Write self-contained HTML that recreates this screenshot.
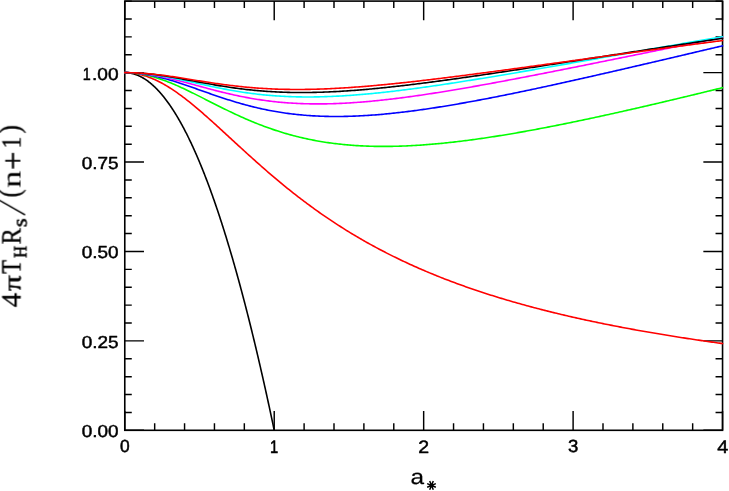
<!DOCTYPE html>
<html><head><meta charset="utf-8"><title>plot</title>
<style>
html,body{margin:0;padding:0;background:#fff;}
body{width:729px;height:491px;overflow:hidden;font-family:"Liberation Sans",sans-serif;}
svg{display:block;}
text{fill:#000;text-rendering:geometricPrecision;}
</style></head><body>
<svg width="729" height="491" viewBox="0 0 729 491">
<defs><filter id="gs" filterUnits="userSpaceOnUse" x="0" y="0" width="729" height="491"><feOffset dx="0" dy="0"/></filter></defs>
<rect x="0" y="0" width="729" height="491" fill="#fff"/>
<rect x="124.78" y="1.10" width="597.77" height="429.20" fill="none" stroke="#000" stroke-width="1.60"/>
<path d="M124.78 430.30 v-19.20 M124.78 1.10 v19.20 M154.67 430.30 v-7.00 M154.67 1.10 v7.00 M184.56 430.30 v-7.00 M184.56 1.10 v7.00 M214.45 430.30 v-7.00 M214.45 1.10 v7.00 M244.33 430.30 v-7.00 M244.33 1.10 v7.00 M274.22 430.30 v-19.20 M274.22 1.10 v19.20 M304.11 430.30 v-7.00 M304.11 1.10 v7.00 M334.00 430.30 v-7.00 M334.00 1.10 v7.00 M363.89 430.30 v-7.00 M363.89 1.10 v7.00 M393.78 430.30 v-7.00 M393.78 1.10 v7.00 M423.66 430.30 v-19.20 M423.66 1.10 v19.20 M453.55 430.30 v-7.00 M453.55 1.10 v7.00 M483.44 430.30 v-7.00 M483.44 1.10 v7.00 M513.33 430.30 v-7.00 M513.33 1.10 v7.00 M543.22 430.30 v-7.00 M543.22 1.10 v7.00 M573.11 430.30 v-19.20 M573.11 1.10 v19.20 M603.00 430.30 v-7.00 M603.00 1.10 v7.00 M632.88 430.30 v-7.00 M632.88 1.10 v7.00 M662.77 430.30 v-7.00 M662.77 1.10 v7.00 M692.66 430.30 v-7.00 M692.66 1.10 v7.00 M722.55 430.30 v-19.20 M722.55 1.10 v19.20 M124.78 430.30 h19.20 M722.55 430.30 h-19.20 M124.78 412.42 h7.00 M722.55 412.42 h-7.00 M124.78 394.53 h7.00 M722.55 394.53 h-7.00 M124.78 376.65 h7.00 M722.55 376.65 h-7.00 M124.78 358.77 h7.00 M722.55 358.77 h-7.00 M124.78 340.88 h19.20 M722.55 340.88 h-19.20 M124.78 323.00 h7.00 M722.55 323.00 h-7.00 M124.78 305.12 h7.00 M722.55 305.12 h-7.00 M124.78 287.23 h7.00 M722.55 287.23 h-7.00 M124.78 269.35 h7.00 M722.55 269.35 h-7.00 M124.78 251.47 h19.20 M722.55 251.47 h-19.20 M124.78 233.58 h7.00 M722.55 233.58 h-7.00 M124.78 215.70 h7.00 M722.55 215.70 h-7.00 M124.78 197.82 h7.00 M722.55 197.82 h-7.00 M124.78 179.93 h7.00 M722.55 179.93 h-7.00 M124.78 162.05 h19.20 M722.55 162.05 h-19.20 M124.78 144.17 h7.00 M722.55 144.17 h-7.00 M124.78 126.28 h7.00 M722.55 126.28 h-7.00 M124.78 108.40 h7.00 M722.55 108.40 h-7.00 M124.78 90.52 h7.00 M722.55 90.52 h-7.00 M124.78 72.63 h19.20 M722.55 72.63 h-19.20 M124.78 54.75 h7.00 M722.55 54.75 h-7.00 M124.78 36.87 h7.00 M722.55 36.87 h-7.00 M124.78 18.98 h7.00 M722.55 18.98 h-7.00 M124.78 1.10 h7.00 M722.55 1.10 h-7.00" stroke="#000" stroke-width="1.45" fill="none"/>
<g fill="none" stroke-width="1.60" stroke-linejoin="round" stroke-linecap="round">
<path d="M124.78 72.63 L125.15 72.64 L125.53 72.64 L125.90 72.65 L126.27 72.67 L126.65 72.69 L127.02 72.71 L127.40 72.74 L127.77 72.78 L128.14 72.81 L128.52 72.86 L128.89 72.90 L129.26 72.96 L129.64 73.01 L130.01 73.07 L130.38 73.14 L130.76 73.21 L131.13 73.28 L131.50 73.36 L131.88 73.44 L132.25 73.53 L132.63 73.62 L133.00 73.72 L133.37 73.82 L133.75 73.92 L134.12 74.03 L134.49 74.14 L134.87 74.26 L135.24 74.39 L135.61 74.51 L135.99 74.65 L136.36 74.78 L136.74 74.92 L137.11 75.07 L137.48 75.22 L137.86 75.37 L138.23 75.53 L138.60 75.69 L138.98 75.86 L139.35 76.03 L139.72 76.21 L140.10 76.39 L140.47 76.58 L140.85 76.77 L141.22 76.96 L141.59 77.16 L141.97 77.36 L142.34 77.57 L142.71 77.78 L143.09 78.00 L143.46 78.22 L143.83 78.45 L144.21 78.68 L144.58 78.91 L144.95 79.15 L145.33 79.40 L145.70 79.64 L146.08 79.90 L146.45 80.15 L146.82 80.41 L147.20 80.68 L147.57 80.95 L147.94 81.23 L148.32 81.51 L148.69 81.79 L149.06 82.08 L149.44 82.37 L149.81 82.67 L150.19 82.97 L150.56 83.28 L150.93 83.59 L151.31 83.90 L151.68 84.22 L152.05 84.55 L152.43 84.87 L152.80 85.21 L153.17 85.55 L153.55 85.89 L153.92 86.23 L154.29 86.58 L154.67 86.94 L155.04 87.30 L155.42 87.66 L155.79 88.03 L156.16 88.41 L156.54 88.78 L156.91 89.17 L157.28 89.55 L157.66 89.94 L158.03 90.34 L158.40 90.74 L158.78 91.14 L159.15 91.55 L159.53 91.97 L159.90 92.39 L160.27 92.81 L160.65 93.23 L161.02 93.67 L161.39 94.10 L161.77 94.54 L162.14 94.99 L162.51 95.44 L162.89 95.89 L163.26 96.35 L163.64 96.81 L164.01 97.28 L164.38 97.75 L164.76 98.23 L165.13 98.71 L165.50 99.19 L165.88 99.68 L166.25 100.18 L166.62 100.67 L167.00 101.18 L167.37 101.68 L167.74 102.20 L168.12 102.71 L168.49 103.23 L168.87 103.76 L169.24 104.29 L169.61 104.82 L169.99 105.36 L170.36 105.91 L170.73 106.45 L171.11 107.01 L171.48 107.56 L171.85 108.12 L172.23 108.69 L172.60 109.26 L172.98 109.83 L173.35 110.41 L173.72 111.00 L174.10 111.58 L174.47 112.18 L174.84 112.77 L175.22 113.37 L175.59 113.98 L175.96 114.59 L176.34 115.20 L176.71 115.82 L177.08 116.45 L177.46 117.08 L177.83 117.71 L178.21 118.35 L178.58 118.99 L178.95 119.63 L179.33 120.28 L179.70 120.94 L180.07 121.60 L180.45 122.26 L180.82 122.93 L181.19 123.60 L181.57 124.28 L181.94 124.96 L182.32 125.65 L182.69 126.34 L183.06 127.03 L183.44 127.73 L183.81 128.44 L184.18 129.15 L184.56 129.86 L184.93 130.58 L185.30 131.30 L185.68 132.03 L186.05 132.76 L186.43 133.49 L186.80 134.23 L187.17 134.98 L187.55 135.73 L187.92 136.48 L188.29 137.24 L188.67 138.00 L189.04 138.77 L189.41 139.54 L189.79 140.31 L190.16 141.09 L190.53 141.88 L190.91 142.67 L191.28 143.46 L191.66 144.26 L192.03 145.06 L192.40 145.87 L192.78 146.68 L193.15 147.50 L193.52 148.32 L193.90 149.14 L194.27 149.97 L194.64 150.80 L195.02 151.64 L195.39 152.48 L195.77 153.33 L196.14 154.18 L196.51 155.04 L196.89 155.90 L197.26 156.77 L197.63 157.64 L198.01 158.51 L198.38 159.39 L198.75 160.27 L199.13 161.16 L199.50 162.05 L199.87 162.95 L200.25 163.85 L200.62 164.75 L201.00 165.66 L201.37 166.58 L201.74 167.50 L202.12 168.42 L202.49 169.35 L202.86 170.28 L203.24 171.22 L203.61 172.16 L203.98 173.10 L204.36 174.05 L204.73 175.01 L205.11 175.97 L205.48 176.93 L205.85 177.90 L206.23 178.87 L206.60 179.85 L206.97 180.83 L207.35 181.81 L207.72 182.80 L208.09 183.80 L208.47 184.80 L208.84 185.80 L209.22 186.81 L209.59 187.82 L209.96 188.84 L210.34 189.86 L210.71 190.89 L211.08 191.92 L211.46 192.95 L211.83 193.99 L212.20 195.04 L212.58 196.08 L212.95 197.14 L213.32 198.19 L213.70 199.26 L214.07 200.32 L214.45 201.39 L214.82 202.47 L215.19 203.55 L215.57 204.63 L215.94 205.72 L216.31 206.81 L216.69 207.91 L217.06 209.01 L217.43 210.12 L217.81 211.23 L218.18 212.35 L218.56 213.47 L218.93 214.59 L219.30 215.72 L219.68 216.85 L220.05 217.99 L220.42 219.13 L220.80 220.28 L221.17 221.43 L221.54 222.59 L221.92 223.75 L222.29 224.91 L222.66 226.08 L223.04 227.25 L223.41 228.43 L223.79 229.62 L224.16 230.80 L224.53 231.99 L224.91 233.19 L225.28 234.39 L225.65 235.60 L226.03 236.80 L226.40 238.02 L226.77 239.24 L227.15 240.46 L227.52 241.69 L227.90 242.92 L228.27 244.15 L228.64 245.40 L229.02 246.64 L229.39 247.89 L229.76 249.14 L230.14 250.40 L230.51 251.67 L230.88 252.93 L231.26 254.21 L231.63 255.48 L232.00 256.76 L232.38 258.05 L232.75 259.34 L233.13 260.63 L233.50 261.93 L233.87 263.23 L234.25 264.54 L234.62 265.85 L234.99 267.17 L235.37 268.49 L235.74 269.82 L236.11 271.15 L236.49 272.48 L236.86 273.82 L237.24 275.16 L237.61 276.51 L237.98 277.86 L238.36 279.22 L238.73 280.58 L239.10 281.95 L239.48 283.32 L239.85 284.69 L240.22 286.07 L240.60 287.46 L240.97 288.85 L241.35 290.24 L241.72 291.63 L242.09 293.04 L242.47 294.44 L242.84 295.85 L243.21 297.27 L243.59 298.69 L243.96 300.11 L244.33 301.54 L244.71 302.97 L245.08 304.41 L245.45 305.85 L245.83 307.30 L246.20 308.75 L246.58 310.20 L246.95 311.66 L247.32 313.13 L247.70 314.60 L248.07 316.07 L248.44 317.55 L248.82 319.03 L249.19 320.52 L249.56 322.01 L249.94 323.50 L250.31 325.00 L250.69 326.51 L251.06 328.02 L251.43 329.53 L251.81 331.05 L252.18 332.57 L252.55 334.10 L252.93 335.63 L253.30 337.16 L253.67 338.70 L254.05 340.25 L254.42 341.80 L254.79 343.35 L255.17 344.91 L255.54 346.47 L255.92 348.04 L256.29 349.61 L256.66 351.19 L257.04 352.77 L257.41 354.35 L257.78 355.94 L258.16 357.53 L258.53 359.13 L258.90 360.74 L259.28 362.34 L259.65 363.96 L260.03 365.57 L260.40 367.19 L260.77 368.82 L261.15 370.45 L261.52 372.08 L261.89 373.72 L262.27 375.36 L262.64 377.01 L263.01 378.66 L263.39 380.32 L263.76 381.98 L264.14 383.64 L264.51 385.31 L264.88 386.99 L265.26 388.67 L265.63 390.35 L266.00 392.04 L266.38 393.73 L266.75 395.43 L267.12 397.13 L267.50 398.83 L267.87 400.54 L268.24 402.26 L268.62 403.98 L268.99 405.70 L269.37 407.43 L269.74 409.16 L270.11 410.90 L270.49 412.64 L270.86 414.39 L271.23 416.14 L271.61 417.89 L271.98 419.65 L272.35 421.41 L272.73 423.18 L273.10 424.96 L273.48 426.73 L273.85 428.51 L274.22 430.30" stroke="#000"/>
<path d="M124.78 72.63 L126.27 72.65 L127.77 72.70 L129.26 72.79 L130.76 72.92 L132.25 73.08 L133.75 73.28 L135.24 73.51 L136.74 73.77 L138.23 74.07 L139.72 74.41 L141.22 74.78 L142.71 75.18 L144.21 75.62 L145.70 76.09 L147.20 76.59 L148.69 77.13 L150.19 77.69 L151.68 78.29 L153.17 78.92 L154.67 79.58 L156.16 80.27 L157.66 80.99 L159.15 81.73 L160.65 82.51 L162.14 83.31 L163.64 84.14 L165.13 85.00 L166.62 85.88 L168.12 86.79 L169.61 87.72 L171.11 88.67 L172.60 89.65 L174.10 90.65 L175.59 91.67 L177.08 92.71 L178.58 93.78 L180.07 94.86 L181.57 95.96 L183.06 97.08 L184.56 98.21 L186.05 99.37 L187.55 100.54 L189.04 101.72 L190.53 102.92 L192.03 104.14 L193.52 105.36 L195.02 106.60 L196.51 107.86 L198.01 109.12 L199.50 110.39 L201.00 111.68 L202.49 112.97 L203.98 114.28 L205.48 115.59 L206.97 116.91 L208.47 118.23 L209.96 119.57 L211.46 120.91 L212.95 122.25 L214.45 123.60 L215.94 124.96 L217.43 126.32 L218.93 127.68 L220.42 129.05 L221.92 130.42 L223.41 131.79 L224.91 133.16 L226.40 134.54 L227.90 135.91 L229.39 137.29 L230.88 138.66 L232.38 140.04 L233.87 141.42 L235.37 142.79 L236.86 144.17 L238.36 145.54 L239.85 146.91 L241.35 148.28 L242.84 149.65 L244.33 151.01 L245.83 152.37 L247.32 153.73 L248.82 155.08 L250.31 156.43 L251.81 157.78 L253.30 159.12 L254.79 160.46 L256.29 161.79 L257.78 163.12 L259.28 164.45 L260.77 165.77 L262.27 167.08 L263.76 168.39 L265.26 169.69 L266.75 170.99 L268.24 172.28 L269.74 173.57 L271.23 174.85 L272.73 176.12 L274.22 177.39 L275.72 178.65 L277.21 179.91 L278.71 181.16 L280.20 182.40 L281.69 183.63 L283.19 184.86 L284.68 186.08 L286.18 187.30 L287.67 188.51 L289.17 189.71 L290.66 190.90 L292.16 192.09 L293.65 193.27 L295.14 194.44 L296.64 195.61 L298.13 196.77 L299.63 197.92 L301.12 199.06 L302.62 200.20 L304.11 201.33 L305.61 202.45 L307.10 203.57 L308.59 204.67 L310.09 205.77 L311.58 206.87 L313.08 207.95 L314.57 209.03 L316.07 210.10 L317.56 211.17 L319.06 212.23 L320.55 213.28 L322.04 214.32 L323.54 215.36 L325.03 216.39 L326.53 217.41 L328.02 218.42 L329.52 219.43 L331.01 220.43 L332.51 221.42 L334.00 222.41 L335.49 223.39 L336.99 224.36 L338.48 225.33 L339.98 226.29 L341.47 227.24 L342.97 228.19 L344.46 229.13 L345.95 230.06 L347.45 230.98 L348.94 231.90 L350.44 232.81 L351.93 233.72 L353.43 234.62 L354.92 235.51 L356.42 236.40 L357.91 237.28 L359.40 238.15 L360.90 239.02 L362.39 239.88 L363.89 240.74 L365.38 241.59 L366.88 242.43 L368.37 243.27 L369.87 244.10 L371.36 244.92 L372.85 245.74 L374.35 246.55 L375.84 247.36 L377.34 248.16 L378.83 248.96 L380.33 249.75 L381.82 250.53 L383.32 251.31 L384.81 252.08 L386.30 252.85 L387.80 253.61 L389.29 254.37 L390.79 255.12 L392.28 255.86 L393.78 256.60 L395.27 257.34 L396.77 258.07 L398.26 258.79 L399.75 259.51 L401.25 260.22 L402.74 260.93 L404.24 261.64 L405.73 262.34 L407.23 263.03 L408.72 263.72 L410.22 264.40 L411.71 265.08 L413.20 265.76 L414.70 266.43 L416.19 267.09 L417.69 267.75 L419.18 268.41 L420.68 269.06 L422.17 269.70 L423.66 270.35 L425.16 270.98 L426.65 271.62 L428.15 272.25 L429.64 272.87 L431.14 273.49 L432.63 274.11 L434.13 274.72 L435.62 275.33 L437.11 275.93 L438.61 276.53 L440.10 277.12 L441.60 277.71 L443.09 278.30 L444.59 278.88 L446.08 279.46 L447.58 280.04 L449.07 280.61 L450.56 281.17 L452.06 281.74 L453.55 282.30 L455.05 282.85 L456.54 283.40 L458.04 283.95 L459.53 284.50 L461.03 285.04 L462.52 285.58 L464.01 286.11 L465.51 286.64 L467.00 287.17 L468.50 287.69 L469.99 288.21 L471.49 288.73 L472.98 289.24 L474.48 289.75 L475.97 290.25 L477.46 290.76 L478.96 291.26 L480.45 291.75 L481.95 292.25 L483.44 292.74 L484.94 293.22 L486.43 293.71 L487.93 294.19 L489.42 294.66 L490.91 295.14 L492.41 295.61 L493.90 296.08 L495.40 296.54 L496.89 297.01 L498.39 297.47 L499.88 297.92 L501.38 298.38 L502.87 298.83 L504.36 299.28 L505.86 299.72 L507.35 300.16 L508.85 300.60 L510.34 301.04 L511.84 301.47 L513.33 301.91 L514.82 302.33 L516.32 302.76 L517.81 303.18 L519.31 303.60 L520.80 304.02 L522.30 304.44 L523.79 304.85 L525.29 305.26 L526.78 305.67 L528.27 306.08 L529.77 306.48 L531.26 306.88 L532.76 307.28 L534.25 307.68 L535.75 308.07 L537.24 308.46 L538.74 308.85 L540.23 309.24 L541.72 309.62 L543.22 310.00 L544.71 310.38 L546.21 310.76 L547.70 311.14 L549.20 311.51 L550.69 311.88 L552.19 312.25 L553.68 312.62 L555.17 312.98 L556.67 313.34 L558.16 313.70 L559.66 314.06 L561.15 314.42 L562.65 314.77 L564.14 315.12 L565.64 315.47 L567.13 315.82 L568.62 316.17 L570.12 316.51 L571.61 316.86 L573.11 317.20 L574.60 317.53 L576.10 317.87 L577.59 318.21 L579.09 318.54 L580.58 318.87 L582.07 319.20 L583.57 319.52 L585.06 319.85 L586.56 320.17 L588.05 320.50 L589.55 320.82 L591.04 321.13 L592.54 321.45 L594.03 321.76 L595.52 322.08 L597.02 322.39 L598.51 322.70 L600.01 323.01 L601.50 323.31 L603.00 323.62 L604.49 323.92 L605.98 324.22 L607.48 324.52 L608.97 324.82 L610.47 325.12 L611.96 325.41 L613.46 325.70 L614.95 326.00 L616.45 326.29 L617.94 326.57 L619.43 326.86 L620.93 327.15 L622.42 327.43 L623.92 327.71 L625.41 327.99 L626.91 328.27 L628.40 328.55 L629.90 328.83 L631.39 329.10 L632.88 329.38 L634.38 329.65 L635.87 329.92 L637.37 330.19 L638.86 330.46 L640.36 330.73 L641.85 330.99 L643.35 331.26 L644.84 331.52 L646.33 331.78 L647.83 332.04 L649.32 332.30 L650.82 332.56 L652.31 332.81 L653.81 333.07 L655.30 333.32 L656.80 333.58 L658.29 333.83 L659.78 334.08 L661.28 334.33 L662.77 334.57 L664.27 334.82 L665.76 335.06 L667.26 335.31 L668.75 335.55 L670.25 335.79 L671.74 336.03 L673.23 336.27 L674.73 336.51 L676.22 336.75 L677.72 336.98 L679.21 337.22 L680.71 337.45 L682.20 337.68 L683.69 337.91 L685.19 338.14 L686.68 338.37 L688.18 338.60 L689.67 338.83 L691.17 339.05 L692.66 339.28 L694.16 339.50 L695.65 339.72 L697.14 339.94 L698.64 340.16 L700.13 340.38 L701.63 340.60 L703.12 340.82 L704.62 341.03 L706.11 341.25 L707.61 341.46 L709.10 341.68 L710.59 341.89 L712.09 342.10 L713.58 342.31 L715.08 342.52 L716.57 342.73 L718.07 342.94 L719.56 343.14 L721.06 343.35 L722.55 343.55" stroke="#f00"/>
<path d="M124.78 72.63 L126.27 72.65 L127.77 72.68 L129.26 72.74 L130.76 72.82 L132.25 72.93 L133.75 73.06 L135.24 73.21 L136.74 73.39 L138.23 73.59 L139.72 73.81 L141.22 74.06 L142.71 74.33 L144.21 74.61 L145.70 74.93 L147.20 75.26 L148.69 75.61 L150.19 75.98 L151.68 76.37 L153.17 76.79 L154.67 77.22 L156.16 77.67 L157.66 78.14 L159.15 78.62 L160.65 79.13 L162.14 79.64 L163.64 80.18 L165.13 80.73 L166.62 81.30 L168.12 81.88 L169.61 82.47 L171.11 83.08 L172.60 83.70 L174.10 84.33 L175.59 84.98 L177.08 85.63 L178.58 86.30 L180.07 86.97 L181.57 87.66 L183.06 88.35 L184.56 89.05 L186.05 89.76 L187.55 90.47 L189.04 91.20 L190.53 91.92 L192.03 92.66 L193.52 93.40 L195.02 94.14 L196.51 94.88 L198.01 95.63 L199.50 96.39 L201.00 97.14 L202.49 97.90 L203.98 98.66 L205.48 99.41 L206.97 100.17 L208.47 100.93 L209.96 101.69 L211.46 102.45 L212.95 103.20 L214.45 103.96 L215.94 104.71 L217.43 105.46 L218.93 106.21 L220.42 106.96 L221.92 107.70 L223.41 108.44 L224.91 109.17 L226.40 109.90 L227.90 110.63 L229.39 111.35 L230.88 112.06 L232.38 112.77 L233.87 113.48 L235.37 114.18 L236.86 114.87 L238.36 115.56 L239.85 116.24 L241.35 116.92 L242.84 117.58 L244.33 118.25 L245.83 118.90 L247.32 119.55 L248.82 120.19 L250.31 120.82 L251.81 121.45 L253.30 122.06 L254.79 122.67 L256.29 123.28 L257.78 123.87 L259.28 124.46 L260.77 125.04 L262.27 125.61 L263.76 126.17 L265.26 126.73 L266.75 127.27 L268.24 127.81 L269.74 128.34 L271.23 128.86 L272.73 129.37 L274.22 129.88 L275.72 130.38 L277.21 130.86 L278.71 131.34 L280.20 131.81 L281.69 132.28 L283.19 132.73 L284.68 133.18 L286.18 133.62 L287.67 134.05 L289.17 134.47 L290.66 134.88 L292.16 135.29 L293.65 135.68 L295.14 136.07 L296.64 136.45 L298.13 136.83 L299.63 137.19 L301.12 137.55 L302.62 137.89 L304.11 138.23 L305.61 138.57 L307.10 138.89 L308.59 139.21 L310.09 139.52 L311.58 139.82 L313.08 140.11 L314.57 140.40 L316.07 140.68 L317.56 140.95 L319.06 141.21 L320.55 141.47 L322.04 141.72 L323.54 141.96 L325.03 142.20 L326.53 142.42 L328.02 142.64 L329.52 142.86 L331.01 143.06 L332.51 143.26 L334.00 143.46 L335.49 143.64 L336.99 143.82 L338.48 144.00 L339.98 144.16 L341.47 144.32 L342.97 144.48 L344.46 144.62 L345.95 144.76 L347.45 144.90 L348.94 145.03 L350.44 145.15 L351.93 145.27 L353.43 145.38 L354.92 145.48 L356.42 145.58 L357.91 145.67 L359.40 145.76 L360.90 145.84 L362.39 145.92 L363.89 145.99 L365.38 146.05 L366.88 146.11 L368.37 146.16 L369.87 146.21 L371.36 146.26 L372.85 146.29 L374.35 146.33 L375.84 146.35 L377.34 146.38 L378.83 146.40 L380.33 146.41 L381.82 146.42 L383.32 146.42 L384.81 146.42 L386.30 146.41 L387.80 146.40 L389.29 146.39 L390.79 146.37 L392.28 146.34 L393.78 146.31 L395.27 146.28 L396.77 146.24 L398.26 146.20 L399.75 146.16 L401.25 146.11 L402.74 146.05 L404.24 145.99 L405.73 145.93 L407.23 145.86 L408.72 145.79 L410.22 145.72 L411.71 145.64 L413.20 145.56 L414.70 145.47 L416.19 145.39 L417.69 145.29 L419.18 145.20 L420.68 145.10 L422.17 144.99 L423.66 144.89 L425.16 144.78 L426.65 144.66 L428.15 144.54 L429.64 144.42 L431.14 144.30 L432.63 144.17 L434.13 144.04 L435.62 143.91 L437.11 143.77 L438.61 143.63 L440.10 143.49 L441.60 143.34 L443.09 143.20 L444.59 143.04 L446.08 142.89 L447.58 142.73 L449.07 142.57 L450.56 142.41 L452.06 142.24 L453.55 142.08 L455.05 141.90 L456.54 141.73 L458.04 141.55 L459.53 141.37 L461.03 141.19 L462.52 141.01 L464.01 140.82 L465.51 140.63 L467.00 140.44 L468.50 140.25 L469.99 140.05 L471.49 139.85 L472.98 139.65 L474.48 139.45 L475.97 139.24 L477.46 139.03 L478.96 138.82 L480.45 138.61 L481.95 138.40 L483.44 138.18 L484.94 137.96 L486.43 137.74 L487.93 137.52 L489.42 137.29 L490.91 137.06 L492.41 136.83 L493.90 136.60 L495.40 136.37 L496.89 136.14 L498.39 135.90 L499.88 135.66 L501.38 135.42 L502.87 135.18 L504.36 134.93 L505.86 134.69 L507.35 134.44 L508.85 134.19 L510.34 133.94 L511.84 133.68 L513.33 133.43 L514.82 133.17 L516.32 132.92 L517.81 132.66 L519.31 132.40 L520.80 132.13 L522.30 131.87 L523.79 131.60 L525.29 131.34 L526.78 131.07 L528.27 130.80 L529.77 130.52 L531.26 130.25 L532.76 129.98 L534.25 129.70 L535.75 129.42 L537.24 129.14 L538.74 128.86 L540.23 128.58 L541.72 128.30 L543.22 128.01 L544.71 127.73 L546.21 127.44 L547.70 127.15 L549.20 126.86 L550.69 126.57 L552.19 126.28 L553.68 125.99 L555.17 125.69 L556.67 125.40 L558.16 125.10 L559.66 124.80 L561.15 124.50 L562.65 124.20 L564.14 123.90 L565.64 123.60 L567.13 123.30 L568.62 122.99 L570.12 122.69 L571.61 122.38 L573.11 122.07 L574.60 121.76 L576.10 121.45 L577.59 121.14 L579.09 120.83 L580.58 120.52 L582.07 120.20 L583.57 119.89 L585.06 119.57 L586.56 119.26 L588.05 118.94 L589.55 118.62 L591.04 118.30 L592.54 117.98 L594.03 117.66 L595.52 117.34 L597.02 117.02 L598.51 116.69 L600.01 116.37 L601.50 116.04 L603.00 115.72 L604.49 115.39 L605.98 115.06 L607.48 114.73 L608.97 114.41 L610.47 114.08 L611.96 113.74 L613.46 113.41 L614.95 113.08 L616.45 112.75 L617.94 112.41 L619.43 112.08 L620.93 111.74 L622.42 111.41 L623.92 111.07 L625.41 110.73 L626.91 110.40 L628.40 110.06 L629.90 109.72 L631.39 109.38 L632.88 109.04 L634.38 108.70 L635.87 108.36 L637.37 108.01 L638.86 107.67 L640.36 107.33 L641.85 106.98 L643.35 106.64 L644.84 106.29 L646.33 105.95 L647.83 105.60 L649.32 105.25 L650.82 104.90 L652.31 104.56 L653.81 104.21 L655.30 103.86 L656.80 103.51 L658.29 103.16 L659.78 102.81 L661.28 102.46 L662.77 102.10 L664.27 101.75 L665.76 101.40 L667.26 101.05 L668.75 100.69 L670.25 100.34 L671.74 99.98 L673.23 99.63 L674.73 99.27 L676.22 98.92 L677.72 98.56 L679.21 98.20 L680.71 97.84 L682.20 97.49 L683.69 97.13 L685.19 96.77 L686.68 96.41 L688.18 96.05 L689.67 95.69 L691.17 95.33 L692.66 94.97 L694.16 94.61 L695.65 94.25 L697.14 93.89 L698.64 93.52 L700.13 93.16 L701.63 92.80 L703.12 92.43 L704.62 92.07 L706.11 91.71 L707.61 91.34 L709.10 90.98 L710.59 90.61 L712.09 90.25 L713.58 89.88 L715.08 89.52 L716.57 89.15 L718.07 88.78 L719.56 88.42 L721.06 88.05 L722.55 87.68" stroke="#0f0"/>
<path d="M124.78 72.63 L126.27 72.64 L127.77 72.67 L129.26 72.71 L130.76 72.78 L132.25 72.86 L133.75 72.95 L135.24 73.07 L136.74 73.20 L138.23 73.35 L139.72 73.52 L141.22 73.70 L142.71 73.90 L144.21 74.12 L145.70 74.35 L147.20 74.60 L148.69 74.86 L150.19 75.14 L151.68 75.43 L153.17 75.73 L154.67 76.06 L156.16 76.39 L157.66 76.74 L159.15 77.10 L160.65 77.47 L162.14 77.85 L163.64 78.25 L165.13 78.65 L166.62 79.07 L168.12 79.50 L169.61 79.93 L171.11 80.38 L172.60 80.83 L174.10 81.29 L175.59 81.76 L177.08 82.24 L178.58 82.72 L180.07 83.21 L181.57 83.71 L183.06 84.21 L184.56 84.71 L186.05 85.22 L187.55 85.74 L189.04 86.25 L190.53 86.77 L192.03 87.29 L193.52 87.82 L195.02 88.35 L196.51 88.87 L198.01 89.40 L199.50 89.93 L201.00 90.46 L202.49 90.99 L203.98 91.52 L205.48 92.05 L206.97 92.57 L208.47 93.10 L209.96 93.62 L211.46 94.14 L212.95 94.66 L214.45 95.18 L215.94 95.69 L217.43 96.20 L218.93 96.70 L220.42 97.20 L221.92 97.70 L223.41 98.19 L224.91 98.68 L226.40 99.16 L227.90 99.64 L229.39 100.11 L230.88 100.58 L232.38 101.04 L233.87 101.50 L235.37 101.95 L236.86 102.40 L238.36 102.83 L239.85 103.27 L241.35 103.69 L242.84 104.11 L244.33 104.52 L245.83 104.93 L247.32 105.33 L248.82 105.72 L250.31 106.11 L251.81 106.49 L253.30 106.86 L254.79 107.22 L256.29 107.58 L257.78 107.93 L259.28 108.27 L260.77 108.61 L262.27 108.93 L263.76 109.25 L265.26 109.57 L266.75 109.87 L268.24 110.17 L269.74 110.46 L271.23 110.75 L272.73 111.03 L274.22 111.30 L275.72 111.56 L277.21 111.81 L278.71 112.06 L280.20 112.30 L281.69 112.53 L283.19 112.76 L284.68 112.98 L286.18 113.19 L287.67 113.39 L289.17 113.59 L290.66 113.78 L292.16 113.97 L293.65 114.14 L295.14 114.31 L296.64 114.47 L298.13 114.63 L299.63 114.78 L301.12 114.92 L302.62 115.06 L304.11 115.19 L305.61 115.31 L307.10 115.43 L308.59 115.54 L310.09 115.64 L311.58 115.74 L313.08 115.83 L314.57 115.91 L316.07 115.99 L317.56 116.07 L319.06 116.13 L320.55 116.19 L322.04 116.25 L323.54 116.30 L325.03 116.34 L326.53 116.38 L328.02 116.41 L329.52 116.44 L331.01 116.46 L332.51 116.47 L334.00 116.48 L335.49 116.49 L336.99 116.49 L338.48 116.48 L339.98 116.47 L341.47 116.46 L342.97 116.44 L344.46 116.41 L345.95 116.38 L347.45 116.34 L348.94 116.30 L350.44 116.26 L351.93 116.21 L353.43 116.15 L354.92 116.10 L356.42 116.03 L357.91 115.97 L359.40 115.89 L360.90 115.82 L362.39 115.74 L363.89 115.65 L365.38 115.56 L366.88 115.47 L368.37 115.37 L369.87 115.27 L371.36 115.17 L372.85 115.06 L374.35 114.95 L375.84 114.83 L377.34 114.71 L378.83 114.59 L380.33 114.46 L381.82 114.33 L383.32 114.19 L384.81 114.05 L386.30 113.91 L387.80 113.77 L389.29 113.62 L390.79 113.47 L392.28 113.31 L393.78 113.16 L395.27 113.00 L396.77 112.83 L398.26 112.66 L399.75 112.49 L401.25 112.32 L402.74 112.15 L404.24 111.97 L405.73 111.79 L407.23 111.60 L408.72 111.41 L410.22 111.22 L411.71 111.03 L413.20 110.84 L414.70 110.64 L416.19 110.44 L417.69 110.23 L419.18 110.03 L420.68 109.82 L422.17 109.61 L423.66 109.40 L425.16 109.18 L426.65 108.97 L428.15 108.75 L429.64 108.52 L431.14 108.30 L432.63 108.07 L434.13 107.84 L435.62 107.61 L437.11 107.38 L438.61 107.15 L440.10 106.91 L441.60 106.67 L443.09 106.43 L444.59 106.19 L446.08 105.94 L447.58 105.70 L449.07 105.45 L450.56 105.20 L452.06 104.95 L453.55 104.69 L455.05 104.44 L456.54 104.18 L458.04 103.92 L459.53 103.66 L461.03 103.40 L462.52 103.13 L464.01 102.87 L465.51 102.60 L467.00 102.33 L468.50 102.06 L469.99 101.79 L471.49 101.52 L472.98 101.24 L474.48 100.97 L475.97 100.69 L477.46 100.41 L478.96 100.13 L480.45 99.85 L481.95 99.57 L483.44 99.28 L484.94 99.00 L486.43 98.71 L487.93 98.42 L489.42 98.13 L490.91 97.84 L492.41 97.55 L493.90 97.26 L495.40 96.97 L496.89 96.67 L498.39 96.38 L499.88 96.08 L501.38 95.78 L502.87 95.48 L504.36 95.18 L505.86 94.88 L507.35 94.58 L508.85 94.27 L510.34 93.97 L511.84 93.66 L513.33 93.36 L514.82 93.05 L516.32 92.74 L517.81 92.43 L519.31 92.12 L520.80 91.81 L522.30 91.50 L523.79 91.19 L525.29 90.87 L526.78 90.56 L528.27 90.25 L529.77 89.93 L531.26 89.61 L532.76 89.30 L534.25 88.98 L535.75 88.66 L537.24 88.34 L538.74 88.02 L540.23 87.70 L541.72 87.38 L543.22 87.05 L544.71 86.73 L546.21 86.41 L547.70 86.08 L549.20 85.76 L550.69 85.43 L552.19 85.11 L553.68 84.78 L555.17 84.45 L556.67 84.13 L558.16 83.80 L559.66 83.47 L561.15 83.14 L562.65 82.81 L564.14 82.48 L565.64 82.15 L567.13 81.81 L568.62 81.48 L570.12 81.15 L571.61 80.82 L573.11 80.48 L574.60 80.15 L576.10 79.81 L577.59 79.48 L579.09 79.14 L580.58 78.81 L582.07 78.47 L583.57 78.13 L585.06 77.80 L586.56 77.46 L588.05 77.12 L589.55 76.78 L591.04 76.44 L592.54 76.11 L594.03 75.77 L595.52 75.43 L597.02 75.09 L598.51 74.75 L600.01 74.40 L601.50 74.06 L603.00 73.72 L604.49 73.38 L605.98 73.04 L607.48 72.69 L608.97 72.35 L610.47 72.01 L611.96 71.67 L613.46 71.32 L614.95 70.98 L616.45 70.63 L617.94 70.29 L619.43 69.94 L620.93 69.60 L622.42 69.25 L623.92 68.91 L625.41 68.56 L626.91 68.22 L628.40 67.87 L629.90 67.53 L631.39 67.18 L632.88 66.83 L634.38 66.49 L635.87 66.14 L637.37 65.79 L638.86 65.44 L640.36 65.10 L641.85 64.75 L643.35 64.40 L644.84 64.05 L646.33 63.70 L647.83 63.35 L649.32 63.01 L650.82 62.66 L652.31 62.31 L653.81 61.96 L655.30 61.61 L656.80 61.26 L658.29 60.91 L659.78 60.56 L661.28 60.21 L662.77 59.86 L664.27 59.51 L665.76 59.16 L667.26 58.81 L668.75 58.46 L670.25 58.11 L671.74 57.76 L673.23 57.41 L674.73 57.06 L676.22 56.71 L677.72 56.36 L679.21 56.01 L680.71 55.66 L682.20 55.30 L683.69 54.95 L685.19 54.60 L686.68 54.25 L688.18 53.90 L689.67 53.55 L691.17 53.20 L692.66 52.85 L694.16 52.49 L695.65 52.14 L697.14 51.79 L698.64 51.44 L700.13 51.09 L701.63 50.74 L703.12 50.38 L704.62 50.03 L706.11 49.68 L707.61 49.33 L709.10 48.98 L710.59 48.63 L712.09 48.27 L713.58 47.92 L715.08 47.57 L716.57 47.22 L718.07 46.87 L719.56 46.51 L721.06 46.16 L722.55 45.81" stroke="#00f"/>
<path d="M124.78 72.63 L126.27 72.64 L127.77 72.66 L129.26 72.70 L130.76 72.75 L132.25 72.81 L133.75 72.89 L135.24 72.98 L136.74 73.09 L138.23 73.21 L139.72 73.34 L141.22 73.49 L142.71 73.65 L144.21 73.82 L145.70 74.00 L147.20 74.20 L148.69 74.41 L150.19 74.63 L151.68 74.86 L153.17 75.11 L154.67 75.36 L156.16 75.63 L157.66 75.90 L159.15 76.19 L160.65 76.48 L162.14 76.79 L163.64 77.10 L165.13 77.42 L166.62 77.75 L168.12 78.09 L169.61 78.43 L171.11 78.78 L172.60 79.14 L174.10 79.51 L175.59 79.87 L177.08 80.25 L178.58 80.63 L180.07 81.01 L181.57 81.40 L183.06 81.79 L184.56 82.19 L186.05 82.58 L187.55 82.98 L189.04 83.38 L190.53 83.79 L192.03 84.19 L193.52 84.60 L195.02 85.01 L196.51 85.41 L198.01 85.82 L199.50 86.23 L201.00 86.64 L202.49 87.04 L203.98 87.45 L205.48 87.85 L206.97 88.25 L208.47 88.65 L209.96 89.05 L211.46 89.44 L212.95 89.83 L214.45 90.22 L215.94 90.61 L217.43 90.99 L218.93 91.37 L220.42 91.74 L221.92 92.11 L223.41 92.48 L224.91 92.84 L226.40 93.19 L227.90 93.55 L229.39 93.89 L230.88 94.24 L232.38 94.57 L233.87 94.91 L235.37 95.23 L236.86 95.55 L238.36 95.87 L239.85 96.18 L241.35 96.48 L242.84 96.78 L244.33 97.07 L245.83 97.36 L247.32 97.64 L248.82 97.91 L250.31 98.18 L251.81 98.44 L253.30 98.70 L254.79 98.95 L256.29 99.19 L257.78 99.43 L259.28 99.66 L260.77 99.89 L262.27 100.10 L263.76 100.31 L265.26 100.52 L266.75 100.72 L268.24 100.91 L269.74 101.10 L271.23 101.28 L272.73 101.45 L274.22 101.62 L275.72 101.78 L277.21 101.94 L278.71 102.08 L280.20 102.23 L281.69 102.36 L283.19 102.49 L284.68 102.62 L286.18 102.74 L287.67 102.85 L289.17 102.96 L290.66 103.06 L292.16 103.15 L293.65 103.24 L295.14 103.32 L296.64 103.40 L298.13 103.47 L299.63 103.54 L301.12 103.60 L302.62 103.65 L304.11 103.70 L305.61 103.75 L307.10 103.79 L308.59 103.82 L310.09 103.85 L311.58 103.87 L313.08 103.89 L314.57 103.90 L316.07 103.91 L317.56 103.91 L319.06 103.91 L320.55 103.90 L322.04 103.89 L323.54 103.88 L325.03 103.85 L326.53 103.83 L328.02 103.80 L329.52 103.76 L331.01 103.73 L332.51 103.68 L334.00 103.63 L335.49 103.58 L336.99 103.53 L338.48 103.47 L339.98 103.40 L341.47 103.33 L342.97 103.26 L344.46 103.18 L345.95 103.10 L347.45 103.02 L348.94 102.93 L350.44 102.84 L351.93 102.74 L353.43 102.64 L354.92 102.54 L356.42 102.43 L357.91 102.32 L359.40 102.21 L360.90 102.09 L362.39 101.97 L363.89 101.85 L365.38 101.72 L366.88 101.60 L368.37 101.46 L369.87 101.33 L371.36 101.19 L372.85 101.05 L374.35 100.90 L375.84 100.75 L377.34 100.60 L378.83 100.45 L380.33 100.29 L381.82 100.13 L383.32 99.97 L384.81 99.81 L386.30 99.64 L387.80 99.47 L389.29 99.30 L390.79 99.13 L392.28 98.95 L393.78 98.77 L395.27 98.59 L396.77 98.40 L398.26 98.22 L399.75 98.03 L401.25 97.84 L402.74 97.64 L404.24 97.45 L405.73 97.25 L407.23 97.05 L408.72 96.85 L410.22 96.65 L411.71 96.44 L413.20 96.24 L414.70 96.03 L416.19 95.81 L417.69 95.60 L419.18 95.39 L420.68 95.17 L422.17 94.95 L423.66 94.73 L425.16 94.51 L426.65 94.29 L428.15 94.06 L429.64 93.83 L431.14 93.61 L432.63 93.38 L434.13 93.14 L435.62 92.91 L437.11 92.68 L438.61 92.44 L440.10 92.20 L441.60 91.96 L443.09 91.72 L444.59 91.48 L446.08 91.24 L447.58 90.99 L449.07 90.75 L450.56 90.50 L452.06 90.25 L453.55 90.00 L455.05 89.75 L456.54 89.50 L458.04 89.25 L459.53 88.99 L461.03 88.74 L462.52 88.48 L464.01 88.22 L465.51 87.97 L467.00 87.71 L468.50 87.45 L469.99 87.18 L471.49 86.92 L472.98 86.66 L474.48 86.39 L475.97 86.13 L477.46 85.86 L478.96 85.59 L480.45 85.32 L481.95 85.06 L483.44 84.79 L484.94 84.51 L486.43 84.24 L487.93 83.97 L489.42 83.70 L490.91 83.42 L492.41 83.15 L493.90 82.87 L495.40 82.60 L496.89 82.32 L498.39 82.04 L499.88 81.76 L501.38 81.48 L502.87 81.20 L504.36 80.92 L505.86 80.64 L507.35 80.36 L508.85 80.08 L510.34 79.80 L511.84 79.51 L513.33 79.23 L514.82 78.94 L516.32 78.66 L517.81 78.37 L519.31 78.09 L520.80 77.80 L522.30 77.51 L523.79 77.22 L525.29 76.94 L526.78 76.65 L528.27 76.36 L529.77 76.07 L531.26 75.78 L532.76 75.49 L534.25 75.20 L535.75 74.90 L537.24 74.61 L538.74 74.32 L540.23 74.03 L541.72 73.73 L543.22 73.44 L544.71 73.15 L546.21 72.85 L547.70 72.56 L549.20 72.26 L550.69 71.97 L552.19 71.67 L553.68 71.38 L555.17 71.08 L556.67 70.79 L558.16 70.49 L559.66 70.19 L561.15 69.89 L562.65 69.60 L564.14 69.30 L565.64 69.00 L567.13 68.70 L568.62 68.40 L570.12 68.11 L571.61 67.81 L573.11 67.51 L574.60 67.21 L576.10 66.91 L577.59 66.61 L579.09 66.31 L580.58 66.01 L582.07 65.71 L583.57 65.41 L585.06 65.11 L586.56 64.81 L588.05 64.50 L589.55 64.20 L591.04 63.90 L592.54 63.60 L594.03 63.30 L595.52 63.00 L597.02 62.70 L598.51 62.39 L600.01 62.09 L601.50 61.79 L603.00 61.49 L604.49 61.18 L605.98 60.88 L607.48 60.58 L608.97 60.28 L610.47 59.97 L611.96 59.67 L613.46 59.37 L614.95 59.06 L616.45 58.76 L617.94 58.46 L619.43 58.15 L620.93 57.85 L622.42 57.55 L623.92 57.24 L625.41 56.94 L626.91 56.64 L628.40 56.33 L629.90 56.03 L631.39 55.73 L632.88 55.42 L634.38 55.12 L635.87 54.82 L637.37 54.51 L638.86 54.21 L640.36 53.91 L641.85 53.60 L643.35 53.30 L644.84 52.99 L646.33 52.69 L647.83 52.39 L649.32 52.08 L650.82 51.78 L652.31 51.48 L653.81 51.17 L655.30 50.87 L656.80 50.56 L658.29 50.26 L659.78 49.96 L661.28 49.65 L662.77 49.35 L664.27 49.05 L665.76 48.74 L667.26 48.44 L668.75 48.14 L670.25 47.83 L671.74 47.53 L673.23 47.23 L674.73 46.93 L676.22 46.62 L677.72 46.32 L679.21 46.02 L680.71 45.71 L682.20 45.41 L683.69 45.11 L685.19 44.81 L686.68 44.50 L688.18 44.20 L689.67 43.90 L691.17 43.60 L692.66 43.29 L694.16 42.99 L695.65 42.69 L697.14 42.39 L698.64 42.09 L700.13 41.78 L701.63 41.48 L703.12 41.18 L704.62 40.88 L706.11 40.58 L707.61 40.28 L709.10 39.98 L710.59 39.67 L712.09 39.37 L713.58 39.07 L715.08 38.77 L716.57 38.47 L718.07 38.17 L719.56 37.87 L721.06 37.57 L722.55 37.27" stroke="#f0f"/>
<path d="M124.78 72.63 L126.27 72.64 L127.77 72.66 L129.26 72.69 L130.76 72.73 L132.25 72.78 L133.75 72.85 L135.24 72.92 L136.74 73.01 L138.23 73.11 L139.72 73.22 L141.22 73.34 L142.71 73.48 L144.21 73.62 L145.70 73.77 L147.20 73.94 L148.69 74.11 L150.19 74.30 L151.68 74.49 L153.17 74.69 L154.67 74.90 L156.16 75.12 L157.66 75.35 L159.15 75.59 L160.65 75.83 L162.14 76.09 L163.64 76.34 L165.13 76.61 L166.62 76.88 L168.12 77.16 L169.61 77.45 L171.11 77.74 L172.60 78.03 L174.10 78.33 L175.59 78.63 L177.08 78.94 L178.58 79.25 L180.07 79.57 L181.57 79.89 L183.06 80.21 L184.56 80.53 L186.05 80.86 L187.55 81.18 L189.04 81.51 L190.53 81.84 L192.03 82.17 L193.52 82.50 L195.02 82.84 L196.51 83.17 L198.01 83.50 L199.50 83.83 L201.00 84.16 L202.49 84.49 L203.98 84.81 L205.48 85.14 L206.97 85.46 L208.47 85.78 L209.96 86.10 L211.46 86.42 L212.95 86.73 L214.45 87.04 L215.94 87.35 L217.43 87.66 L218.93 87.96 L220.42 88.26 L221.92 88.55 L223.41 88.84 L224.91 89.12 L226.40 89.41 L227.90 89.68 L229.39 89.96 L230.88 90.22 L232.38 90.49 L233.87 90.75 L235.37 91.00 L236.86 91.25 L238.36 91.49 L239.85 91.73 L241.35 91.97 L242.84 92.20 L244.33 92.42 L245.83 92.64 L247.32 92.85 L248.82 93.06 L250.31 93.26 L251.81 93.46 L253.30 93.65 L254.79 93.83 L256.29 94.01 L257.78 94.19 L259.28 94.36 L260.77 94.52 L262.27 94.68 L263.76 94.83 L265.26 94.98 L266.75 95.12 L268.24 95.25 L269.74 95.39 L271.23 95.51 L272.73 95.63 L274.22 95.74 L275.72 95.85 L277.21 95.96 L278.71 96.05 L280.20 96.15 L281.69 96.23 L283.19 96.32 L284.68 96.39 L286.18 96.47 L287.67 96.53 L289.17 96.59 L290.66 96.65 L292.16 96.70 L293.65 96.75 L295.14 96.79 L296.64 96.83 L298.13 96.86 L299.63 96.89 L301.12 96.91 L302.62 96.93 L304.11 96.94 L305.61 96.95 L307.10 96.96 L308.59 96.96 L310.09 96.95 L311.58 96.94 L313.08 96.93 L314.57 96.91 L316.07 96.89 L317.56 96.86 L319.06 96.83 L320.55 96.80 L322.04 96.76 L323.54 96.72 L325.03 96.67 L326.53 96.62 L328.02 96.57 L329.52 96.51 L331.01 96.45 L332.51 96.39 L334.00 96.32 L335.49 96.25 L336.99 96.17 L338.48 96.09 L339.98 96.01 L341.47 95.93 L342.97 95.84 L344.46 95.75 L345.95 95.65 L347.45 95.55 L348.94 95.45 L350.44 95.35 L351.93 95.24 L353.43 95.13 L354.92 95.01 L356.42 94.90 L357.91 94.78 L359.40 94.66 L360.90 94.53 L362.39 94.41 L363.89 94.28 L365.38 94.14 L366.88 94.01 L368.37 93.87 L369.87 93.73 L371.36 93.59 L372.85 93.44 L374.35 93.29 L375.84 93.14 L377.34 92.99 L378.83 92.84 L380.33 92.68 L381.82 92.52 L383.32 92.36 L384.81 92.20 L386.30 92.03 L387.80 91.86 L389.29 91.69 L390.79 91.52 L392.28 91.35 L393.78 91.17 L395.27 91.00 L396.77 90.82 L398.26 90.64 L399.75 90.45 L401.25 90.27 L402.74 90.08 L404.24 89.90 L405.73 89.71 L407.23 89.52 L408.72 89.32 L410.22 89.13 L411.71 88.93 L413.20 88.74 L414.70 88.54 L416.19 88.34 L417.69 88.14 L419.18 87.93 L420.68 87.73 L422.17 87.52 L423.66 87.32 L425.16 87.11 L426.65 86.90 L428.15 86.69 L429.64 86.47 L431.14 86.26 L432.63 86.05 L434.13 85.83 L435.62 85.61 L437.11 85.39 L438.61 85.17 L440.10 84.95 L441.60 84.73 L443.09 84.51 L444.59 84.29 L446.08 84.06 L447.58 83.84 L449.07 83.61 L450.56 83.38 L452.06 83.15 L453.55 82.92 L455.05 82.69 L456.54 82.46 L458.04 82.23 L459.53 82.00 L461.03 81.76 L462.52 81.53 L464.01 81.29 L465.51 81.06 L467.00 80.82 L468.50 80.58 L469.99 80.35 L471.49 80.11 L472.98 79.87 L474.48 79.63 L475.97 79.39 L477.46 79.14 L478.96 78.90 L480.45 78.66 L481.95 78.42 L483.44 78.17 L484.94 77.93 L486.43 77.68 L487.93 77.44 L489.42 77.19 L490.91 76.94 L492.41 76.69 L493.90 76.45 L495.40 76.20 L496.89 75.95 L498.39 75.70 L499.88 75.45 L501.38 75.20 L502.87 74.95 L504.36 74.70 L505.86 74.44 L507.35 74.19 L508.85 73.94 L510.34 73.69 L511.84 73.43 L513.33 73.18 L514.82 72.92 L516.32 72.67 L517.81 72.42 L519.31 72.16 L520.80 71.90 L522.30 71.65 L523.79 71.39 L525.29 71.14 L526.78 70.88 L528.27 70.62 L529.77 70.36 L531.26 70.11 L532.76 69.85 L534.25 69.59 L535.75 69.33 L537.24 69.07 L538.74 68.82 L540.23 68.56 L541.72 68.30 L543.22 68.04 L544.71 67.78 L546.21 67.52 L547.70 67.26 L549.20 67.00 L550.69 66.74 L552.19 66.48 L553.68 66.22 L555.17 65.95 L556.67 65.69 L558.16 65.43 L559.66 65.17 L561.15 64.91 L562.65 64.65 L564.14 64.39 L565.64 64.12 L567.13 63.86 L568.62 63.60 L570.12 63.34 L571.61 63.07 L573.11 62.81 L574.60 62.55 L576.10 62.29 L577.59 62.02 L579.09 61.76 L580.58 61.50 L582.07 61.24 L583.57 60.97 L585.06 60.71 L586.56 60.45 L588.05 60.18 L589.55 59.92 L591.04 59.66 L592.54 59.39 L594.03 59.13 L595.52 58.87 L597.02 58.60 L598.51 58.34 L600.01 58.08 L601.50 57.81 L603.00 57.55 L604.49 57.29 L605.98 57.02 L607.48 56.76 L608.97 56.50 L610.47 56.23 L611.96 55.97 L613.46 55.71 L614.95 55.44 L616.45 55.18 L617.94 54.92 L619.43 54.65 L620.93 54.39 L622.42 54.13 L623.92 53.87 L625.41 53.60 L626.91 53.34 L628.40 53.08 L629.90 52.81 L631.39 52.55 L632.88 52.29 L634.38 52.03 L635.87 51.76 L637.37 51.50 L638.86 51.24 L640.36 50.97 L641.85 50.71 L643.35 50.45 L644.84 50.19 L646.33 49.93 L647.83 49.66 L649.32 49.40 L650.82 49.14 L652.31 48.88 L653.81 48.62 L655.30 48.35 L656.80 48.09 L658.29 47.83 L659.78 47.57 L661.28 47.31 L662.77 47.05 L664.27 46.79 L665.76 46.53 L667.26 46.27 L668.75 46.00 L670.25 45.74 L671.74 45.48 L673.23 45.22 L674.73 44.96 L676.22 44.70 L677.72 44.44 L679.21 44.18 L680.71 43.92 L682.20 43.66 L683.69 43.40 L685.19 43.14 L686.68 42.88 L688.18 42.63 L689.67 42.37 L691.17 42.11 L692.66 41.85 L694.16 41.59 L695.65 41.33 L697.14 41.07 L698.64 40.82 L700.13 40.56 L701.63 40.30 L703.12 40.04 L704.62 39.78 L706.11 39.53 L707.61 39.27 L709.10 39.01 L710.59 38.75 L712.09 38.50 L713.58 38.24 L715.08 37.98 L716.57 37.73 L718.07 37.47 L719.56 37.22 L721.06 36.96 L722.55 36.70" stroke="#0ff"/>
<path d="M124.78 72.63 L126.27 72.64 L127.77 72.65 L129.26 72.68 L130.76 72.71 L132.25 72.76 L133.75 72.82 L135.24 72.88 L136.74 72.96 L138.23 73.04 L139.72 73.14 L141.22 73.24 L142.71 73.36 L144.21 73.48 L145.70 73.61 L147.20 73.75 L148.69 73.90 L150.19 74.06 L151.68 74.22 L153.17 74.40 L154.67 74.58 L156.16 74.76 L157.66 74.96 L159.15 75.16 L160.65 75.37 L162.14 75.59 L163.64 75.81 L165.13 76.03 L166.62 76.27 L168.12 76.50 L169.61 76.75 L171.11 76.99 L172.60 77.24 L174.10 77.50 L175.59 77.76 L177.08 78.02 L178.58 78.28 L180.07 78.55 L181.57 78.82 L183.06 79.09 L184.56 79.37 L186.05 79.64 L187.55 79.92 L189.04 80.20 L190.53 80.48 L192.03 80.75 L193.52 81.03 L195.02 81.31 L196.51 81.59 L198.01 81.87 L199.50 82.15 L201.00 82.42 L202.49 82.70 L203.98 82.97 L205.48 83.25 L206.97 83.52 L208.47 83.79 L209.96 84.05 L211.46 84.32 L212.95 84.58 L214.45 84.84 L215.94 85.09 L217.43 85.35 L218.93 85.60 L220.42 85.84 L221.92 86.08 L223.41 86.32 L224.91 86.56 L226.40 86.79 L227.90 87.02 L229.39 87.24 L230.88 87.46 L232.38 87.68 L233.87 87.89 L235.37 88.10 L236.86 88.30 L238.36 88.50 L239.85 88.69 L241.35 88.88 L242.84 89.06 L244.33 89.24 L245.83 89.42 L247.32 89.59 L248.82 89.75 L250.31 89.91 L251.81 90.07 L253.30 90.22 L254.79 90.36 L256.29 90.50 L257.78 90.64 L259.28 90.77 L260.77 90.90 L262.27 91.02 L263.76 91.14 L265.26 91.25 L266.75 91.36 L268.24 91.46 L269.74 91.55 L271.23 91.65 L272.73 91.73 L274.22 91.82 L275.72 91.90 L277.21 91.97 L278.71 92.04 L280.20 92.10 L281.69 92.16 L283.19 92.22 L284.68 92.27 L286.18 92.31 L287.67 92.36 L289.17 92.39 L290.66 92.43 L292.16 92.45 L293.65 92.48 L295.14 92.50 L296.64 92.51 L298.13 92.53 L299.63 92.53 L301.12 92.54 L302.62 92.54 L304.11 92.53 L305.61 92.52 L307.10 92.51 L308.59 92.49 L310.09 92.47 L311.58 92.45 L313.08 92.42 L314.57 92.39 L316.07 92.35 L317.56 92.32 L319.06 92.27 L320.55 92.23 L322.04 92.18 L323.54 92.13 L325.03 92.07 L326.53 92.01 L328.02 91.95 L329.52 91.89 L331.01 91.82 L332.51 91.74 L334.00 91.67 L335.49 91.59 L336.99 91.51 L338.48 91.43 L339.98 91.34 L341.47 91.25 L342.97 91.16 L344.46 91.06 L345.95 90.97 L347.45 90.87 L348.94 90.76 L350.44 90.66 L351.93 90.55 L353.43 90.44 L354.92 90.33 L356.42 90.21 L357.91 90.09 L359.40 89.97 L360.90 89.85 L362.39 89.73 L363.89 89.60 L365.38 89.47 L366.88 89.34 L368.37 89.20 L369.87 89.07 L371.36 88.93 L372.85 88.79 L374.35 88.65 L375.84 88.51 L377.34 88.36 L378.83 88.21 L380.33 88.06 L381.82 87.91 L383.32 87.76 L384.81 87.61 L386.30 87.45 L387.80 87.29 L389.29 87.13 L390.79 86.97 L392.28 86.81 L393.78 86.64 L395.27 86.48 L396.77 86.31 L398.26 86.14 L399.75 85.97 L401.25 85.80 L402.74 85.62 L404.24 85.45 L405.73 85.27 L407.23 85.10 L408.72 84.92 L410.22 84.74 L411.71 84.56 L413.20 84.37 L414.70 84.19 L416.19 84.00 L417.69 83.82 L419.18 83.63 L420.68 83.44 L422.17 83.25 L423.66 83.06 L425.16 82.87 L426.65 82.68 L428.15 82.48 L429.64 82.29 L431.14 82.09 L432.63 81.90 L434.13 81.70 L435.62 81.50 L437.11 81.30 L438.61 81.10 L440.10 80.90 L441.60 80.70 L443.09 80.50 L444.59 80.29 L446.08 80.09 L447.58 79.88 L449.07 79.68 L450.56 79.47 L452.06 79.26 L453.55 79.06 L455.05 78.85 L456.54 78.64 L458.04 78.43 L459.53 78.22 L461.03 78.00 L462.52 77.79 L464.01 77.58 L465.51 77.37 L467.00 77.15 L468.50 76.94 L469.99 76.72 L471.49 76.51 L472.98 76.29 L474.48 76.08 L475.97 75.86 L477.46 75.64 L478.96 75.42 L480.45 75.20 L481.95 74.99 L483.44 74.77 L484.94 74.55 L486.43 74.33 L487.93 74.11 L489.42 73.88 L490.91 73.66 L492.41 73.44 L493.90 73.22 L495.40 73.00 L496.89 72.77 L498.39 72.55 L499.88 72.33 L501.38 72.10 L502.87 71.88 L504.36 71.65 L505.86 71.43 L507.35 71.20 L508.85 70.98 L510.34 70.75 L511.84 70.53 L513.33 70.30 L514.82 70.07 L516.32 69.85 L517.81 69.62 L519.31 69.39 L520.80 69.17 L522.30 68.94 L523.79 68.71 L525.29 68.48 L526.78 68.25 L528.27 68.03 L529.77 67.80 L531.26 67.57 L532.76 67.34 L534.25 67.11 L535.75 66.88 L537.24 66.65 L538.74 66.42 L540.23 66.19 L541.72 65.96 L543.22 65.73 L544.71 65.50 L546.21 65.27 L547.70 65.04 L549.20 64.81 L550.69 64.58 L552.19 64.35 L553.68 64.12 L555.17 63.89 L556.67 63.66 L558.16 63.43 L559.66 63.20 L561.15 62.97 L562.65 62.74 L564.14 62.50 L565.64 62.27 L567.13 62.04 L568.62 61.81 L570.12 61.58 L571.61 61.35 L573.11 61.12 L574.60 60.89 L576.10 60.66 L577.59 60.42 L579.09 60.19 L580.58 59.96 L582.07 59.73 L583.57 59.50 L585.06 59.27 L586.56 59.04 L588.05 58.80 L589.55 58.57 L591.04 58.34 L592.54 58.11 L594.03 57.88 L595.52 57.65 L597.02 57.42 L598.51 57.19 L600.01 56.96 L601.50 56.72 L603.00 56.49 L604.49 56.26 L605.98 56.03 L607.48 55.80 L608.97 55.57 L610.47 55.34 L611.96 55.11 L613.46 54.88 L614.95 54.65 L616.45 54.42 L617.94 54.19 L619.43 53.96 L620.93 53.73 L622.42 53.50 L623.92 53.27 L625.41 53.04 L626.91 52.81 L628.40 52.58 L629.90 52.35 L631.39 52.12 L632.88 51.89 L634.38 51.66 L635.87 51.43 L637.37 51.20 L638.86 50.97 L640.36 50.74 L641.85 50.51 L643.35 50.28 L644.84 50.06 L646.33 49.83 L647.83 49.60 L649.32 49.37 L650.82 49.14 L652.31 48.91 L653.81 48.69 L655.30 48.46 L656.80 48.23 L658.29 48.00 L659.78 47.78 L661.28 47.55 L662.77 47.32 L664.27 47.09 L665.76 46.87 L667.26 46.64 L668.75 46.41 L670.25 46.19 L671.74 45.96 L673.23 45.73 L674.73 45.51 L676.22 45.28 L677.72 45.06 L679.21 44.83 L680.71 44.61 L682.20 44.38 L683.69 44.15 L685.19 43.93 L686.68 43.70 L688.18 43.48 L689.67 43.25 L691.17 43.03 L692.66 42.81 L694.16 42.58 L695.65 42.36 L697.14 42.13 L698.64 41.91 L700.13 41.69 L701.63 41.46 L703.12 41.24 L704.62 41.02 L706.11 40.79 L707.61 40.57 L709.10 40.35 L710.59 40.13 L712.09 39.90 L713.58 39.68 L715.08 39.46 L716.57 39.24 L718.07 39.02 L719.56 38.79 L721.06 38.57 L722.55 38.35" stroke="#000"/>
<path d="M124.78 72.63 L126.27 72.64 L127.77 72.65 L129.26 72.67 L130.76 72.70 L132.25 72.74 L133.75 72.79 L135.24 72.85 L136.74 72.92 L138.23 72.99 L139.72 73.07 L141.22 73.17 L142.71 73.27 L144.21 73.37 L145.70 73.49 L147.20 73.61 L148.69 73.74 L150.19 73.88 L151.68 74.02 L153.17 74.17 L154.67 74.33 L156.16 74.50 L157.66 74.67 L159.15 74.84 L160.65 75.02 L162.14 75.21 L163.64 75.41 L165.13 75.60 L166.62 75.81 L168.12 76.01 L169.61 76.22 L171.11 76.44 L172.60 76.66 L174.10 76.88 L175.59 77.10 L177.08 77.33 L178.58 77.56 L180.07 77.79 L181.57 78.03 L183.06 78.26 L184.56 78.50 L186.05 78.74 L187.55 78.98 L189.04 79.22 L190.53 79.46 L192.03 79.70 L193.52 79.94 L195.02 80.18 L196.51 80.43 L198.01 80.67 L199.50 80.91 L201.00 81.14 L202.49 81.38 L203.98 81.62 L205.48 81.85 L206.97 82.08 L208.47 82.32 L209.96 82.54 L211.46 82.77 L212.95 82.99 L214.45 83.22 L215.94 83.43 L217.43 83.65 L218.93 83.86 L220.42 84.07 L221.92 84.28 L223.41 84.48 L224.91 84.68 L226.40 84.88 L227.90 85.07 L229.39 85.26 L230.88 85.45 L232.38 85.63 L233.87 85.81 L235.37 85.98 L236.86 86.15 L238.36 86.32 L239.85 86.48 L241.35 86.64 L242.84 86.79 L244.33 86.94 L245.83 87.08 L247.32 87.22 L248.82 87.36 L250.31 87.49 L251.81 87.62 L253.30 87.74 L254.79 87.86 L256.29 87.98 L257.78 88.09 L259.28 88.19 L260.77 88.30 L262.27 88.39 L263.76 88.49 L265.26 88.57 L266.75 88.66 L268.24 88.74 L269.74 88.81 L271.23 88.89 L272.73 88.95 L274.22 89.02 L275.72 89.08 L277.21 89.13 L278.71 89.18 L280.20 89.23 L281.69 89.27 L283.19 89.31 L284.68 89.34 L286.18 89.37 L287.67 89.40 L289.17 89.42 L290.66 89.44 L292.16 89.45 L293.65 89.47 L295.14 89.47 L296.64 89.48 L298.13 89.48 L299.63 89.47 L301.12 89.47 L302.62 89.45 L304.11 89.44 L305.61 89.42 L307.10 89.40 L308.59 89.38 L310.09 89.35 L311.58 89.32 L313.08 89.28 L314.57 89.24 L316.07 89.20 L317.56 89.16 L319.06 89.11 L320.55 89.06 L322.04 89.01 L323.54 88.95 L325.03 88.89 L326.53 88.83 L328.02 88.77 L329.52 88.70 L331.01 88.63 L332.51 88.56 L334.00 88.48 L335.49 88.40 L336.99 88.32 L338.48 88.24 L339.98 88.15 L341.47 88.07 L342.97 87.97 L344.46 87.88 L345.95 87.79 L347.45 87.69 L348.94 87.59 L350.44 87.49 L351.93 87.38 L353.43 87.27 L354.92 87.17 L356.42 87.06 L357.91 86.94 L359.40 86.83 L360.90 86.71 L362.39 86.59 L363.89 86.47 L365.38 86.35 L366.88 86.22 L368.37 86.10 L369.87 85.97 L371.36 85.84 L372.85 85.71 L374.35 85.57 L375.84 85.44 L377.34 85.30 L378.83 85.16 L380.33 85.03 L381.82 84.88 L383.32 84.74 L384.81 84.60 L386.30 84.45 L387.80 84.30 L389.29 84.15 L390.79 84.00 L392.28 83.85 L393.78 83.70 L395.27 83.55 L396.77 83.39 L398.26 83.24 L399.75 83.08 L401.25 82.92 L402.74 82.76 L404.24 82.60 L405.73 82.43 L407.23 82.27 L408.72 82.11 L410.22 81.94 L411.71 81.77 L413.20 81.61 L414.70 81.44 L416.19 81.27 L417.69 81.10 L419.18 80.92 L420.68 80.75 L422.17 80.58 L423.66 80.40 L425.16 80.23 L426.65 80.05 L428.15 79.87 L429.64 79.70 L431.14 79.52 L432.63 79.34 L434.13 79.16 L435.62 78.98 L437.11 78.80 L438.61 78.61 L440.10 78.43 L441.60 78.25 L443.09 78.06 L444.59 77.88 L446.08 77.69 L447.58 77.50 L449.07 77.32 L450.56 77.13 L452.06 76.94 L453.55 76.75 L455.05 76.56 L456.54 76.37 L458.04 76.18 L459.53 75.99 L461.03 75.80 L462.52 75.61 L464.01 75.42 L465.51 75.22 L467.00 75.03 L468.50 74.83 L469.99 74.64 L471.49 74.45 L472.98 74.25 L474.48 74.05 L475.97 73.86 L477.46 73.66 L478.96 73.47 L480.45 73.27 L481.95 73.07 L483.44 72.87 L484.94 72.68 L486.43 72.48 L487.93 72.28 L489.42 72.08 L490.91 71.88 L492.41 71.68 L493.90 71.48 L495.40 71.28 L496.89 71.08 L498.39 70.88 L499.88 70.68 L501.38 70.48 L502.87 70.27 L504.36 70.07 L505.86 69.87 L507.35 69.67 L508.85 69.47 L510.34 69.26 L511.84 69.06 L513.33 68.86 L514.82 68.66 L516.32 68.45 L517.81 68.25 L519.31 68.05 L520.80 67.84 L522.30 67.64 L523.79 67.43 L525.29 67.23 L526.78 67.03 L528.27 66.82 L529.77 66.62 L531.26 66.41 L532.76 66.21 L534.25 66.00 L535.75 65.80 L537.24 65.59 L538.74 65.39 L540.23 65.18 L541.72 64.98 L543.22 64.77 L544.71 64.57 L546.21 64.36 L547.70 64.16 L549.20 63.95 L550.69 63.74 L552.19 63.54 L553.68 63.33 L555.17 63.13 L556.67 62.92 L558.16 62.72 L559.66 62.51 L561.15 62.30 L562.65 62.10 L564.14 61.89 L565.64 61.69 L567.13 61.48 L568.62 61.28 L570.12 61.07 L571.61 60.86 L573.11 60.66 L574.60 60.45 L576.10 60.25 L577.59 60.04 L579.09 59.84 L580.58 59.63 L582.07 59.43 L583.57 59.22 L585.06 59.01 L586.56 58.81 L588.05 58.60 L589.55 58.40 L591.04 58.19 L592.54 57.99 L594.03 57.78 L595.52 57.58 L597.02 57.37 L598.51 57.17 L600.01 56.96 L601.50 56.76 L603.00 56.55 L604.49 56.35 L605.98 56.14 L607.48 55.94 L608.97 55.73 L610.47 55.53 L611.96 55.33 L613.46 55.12 L614.95 54.92 L616.45 54.71 L617.94 54.51 L619.43 54.31 L620.93 54.10 L622.42 53.90 L623.92 53.70 L625.41 53.49 L626.91 53.29 L628.40 53.09 L629.90 52.88 L631.39 52.68 L632.88 52.48 L634.38 52.27 L635.87 52.07 L637.37 51.87 L638.86 51.67 L640.36 51.46 L641.85 51.26 L643.35 51.06 L644.84 50.86 L646.33 50.66 L647.83 50.45 L649.32 50.25 L650.82 50.05 L652.31 49.85 L653.81 49.65 L655.30 49.45 L656.80 49.25 L658.29 49.05 L659.78 48.85 L661.28 48.65 L662.77 48.44 L664.27 48.24 L665.76 48.04 L667.26 47.84 L668.75 47.65 L670.25 47.45 L671.74 47.25 L673.23 47.05 L674.73 46.85 L676.22 46.65 L677.72 46.45 L679.21 46.25 L680.71 46.05 L682.20 45.85 L683.69 45.66 L685.19 45.46 L686.68 45.26 L688.18 45.06 L689.67 44.86 L691.17 44.67 L692.66 44.47 L694.16 44.27 L695.65 44.08 L697.14 43.88 L698.64 43.68 L700.13 43.48 L701.63 43.29 L703.12 43.09 L704.62 42.90 L706.11 42.70 L707.61 42.50 L709.10 42.31 L710.59 42.11 L712.09 41.92 L713.58 41.72 L715.08 41.53 L716.57 41.33 L718.07 41.14 L719.56 40.94 L721.06 40.75 L722.55 40.56" stroke="#f00"/>
</g>
<g filter="url(#gs)">
<text transform="translate(81.69 437.28) scale(0.1896 0.1739)" font-family="'Liberation Sans', sans-serif" font-size="100" stroke="#000" stroke-width="2.75" stroke-linejoin="round" >0.00</text>
<text transform="translate(81.69 347.86) scale(0.1898 0.1739)" font-family="'Liberation Sans', sans-serif" font-size="100" stroke="#000" stroke-width="2.75" stroke-linejoin="round" >0.25</text>
<text transform="translate(81.69 258.44) scale(0.1896 0.1739)" font-family="'Liberation Sans', sans-serif" font-size="100" stroke="#000" stroke-width="2.75" stroke-linejoin="round" >0.50</text>
<text transform="translate(81.69 169.03) scale(0.1898 0.1739)" font-family="'Liberation Sans', sans-serif" font-size="100" stroke="#000" stroke-width="2.75" stroke-linejoin="round" >0.75</text>
<text transform="translate(82.87 79.68) scale(0.1434 0.1760)" font-family="'Liberation Sans', sans-serif" font-size="100" stroke="#000" stroke-width="3.15" stroke-linejoin="round" >1</text>
<text transform="translate(91.98 79.61) scale(0.1913 0.1739)" font-family="'Liberation Sans', sans-serif" font-size="100" stroke="#000" stroke-width="2.74" stroke-linejoin="round" >.00</text>
<text transform="translate(119.95 452.37) scale(0.1738 0.1767)" font-family="'Liberation Sans', sans-serif" font-size="100" stroke="#000" stroke-width="2.85" stroke-linejoin="round" >0</text>
<text transform="translate(270.04 452.55) scale(0.1480 0.1818)" font-family="'Liberation Sans', sans-serif" font-size="100" stroke="#000" stroke-width="3.05" stroke-linejoin="round" >1</text>
<text transform="translate(418.17 452.55) scale(0.1956 0.1792)" font-family="'Liberation Sans', sans-serif" font-size="100" stroke="#000" stroke-width="2.67" stroke-linejoin="round" >2</text>
<text transform="translate(567.96 452.37) scale(0.1853 0.1767)" font-family="'Liberation Sans', sans-serif" font-size="100" stroke="#000" stroke-width="2.76" stroke-linejoin="round" >3</text>
<text transform="translate(717.30 452.55) scale(0.1980 0.1818)" font-family="'Liberation Sans', sans-serif" font-size="100" stroke="#000" stroke-width="2.64" stroke-linejoin="round" >4</text>
<text transform="translate(410.46 484.09) scale(0.2439 0.2100)" font-family="'Liberation Sans', sans-serif" font-size="100" stroke="#000" stroke-width="0.88" stroke-linejoin="round" >a</text>
<path d="M427.16 483.60 L435.84 487.20 M429.70 481.06 L433.30 489.74 M433.30 481.06 L429.70 489.74 M435.84 483.60 L427.16 487.20" stroke="#000" stroke-width="1.5" fill="none"/>
<g transform="translate(20.50 306.80) rotate(-90)"><text transform="translate(-0.40 -0.17) scale(0.2871 0.2760)" font-family="'Liberation Serif', serif" font-size="100" stroke="#000" stroke-width="1.24" stroke-linejoin="round" >4</text><text transform="translate(15.65 -0.38) scale(0.3168 0.2585)" font-family="'Liberation Serif', serif" font-size="100" stroke="#000" stroke-width="1.57" stroke-linejoin="round" >π</text><text transform="translate(33.08 -0.17) scale(0.2277 0.2771)" font-family="'Liberation Serif', serif" font-size="100" stroke="#000" stroke-width="1.39" stroke-linejoin="round" >T</text><text transform="translate(48.91 6.10) scale(0.1645 0.1878)" font-family="'Liberation Serif', serif" font-size="100" stroke="#000" stroke-width="3.41" stroke-linejoin="round" >H</text><text transform="translate(62.55 -0.17) scale(0.2417 0.2771)" font-family="'Liberation Serif', serif" font-size="100" stroke="#000" stroke-width="1.35" stroke-linejoin="round" >R</text><text transform="translate(79.87 6.12) scale(0.2256 0.2031)" font-family="'Liberation Serif', serif" font-size="100" stroke="#000" stroke-width="2.57" stroke-linejoin="round" >s</text><line x1="91.9" y1="4.7" x2="107.05" y2="-22.0" stroke="#000" stroke-width="1.5"/><text transform="translate(109.51 -1.03) scale(0.2373 0.2992)" font-family="'Liberation Serif', serif" font-size="100" stroke="#000" stroke-width="1.31" stroke-linejoin="round" >(</text><text transform="translate(118.98 -0.05) scale(0.3416 0.2723)" font-family="'Liberation Serif', serif" font-size="100" stroke="#000" stroke-width="0.33" stroke-linejoin="round" >n</text><text transform="translate(136.72 2.72) scale(0.3301 0.3194)" font-family="'Liberation Serif', serif" font-size="100" stroke="#000" stroke-width="1.08" stroke-linejoin="round" >+</text><text transform="translate(158.58 -0.17) scale(0.2284 0.2750)" font-family="'Liberation Serif', serif" font-size="100" stroke="#000" stroke-width="1.40" stroke-linejoin="round" >1</text><text transform="translate(173.25 -1.03) scale(0.2544 0.2992)" font-family="'Liberation Serif', serif" font-size="100" stroke="#000" stroke-width="1.27" stroke-linejoin="round" >)</text></g>
</g>
</svg>
</body></html>
